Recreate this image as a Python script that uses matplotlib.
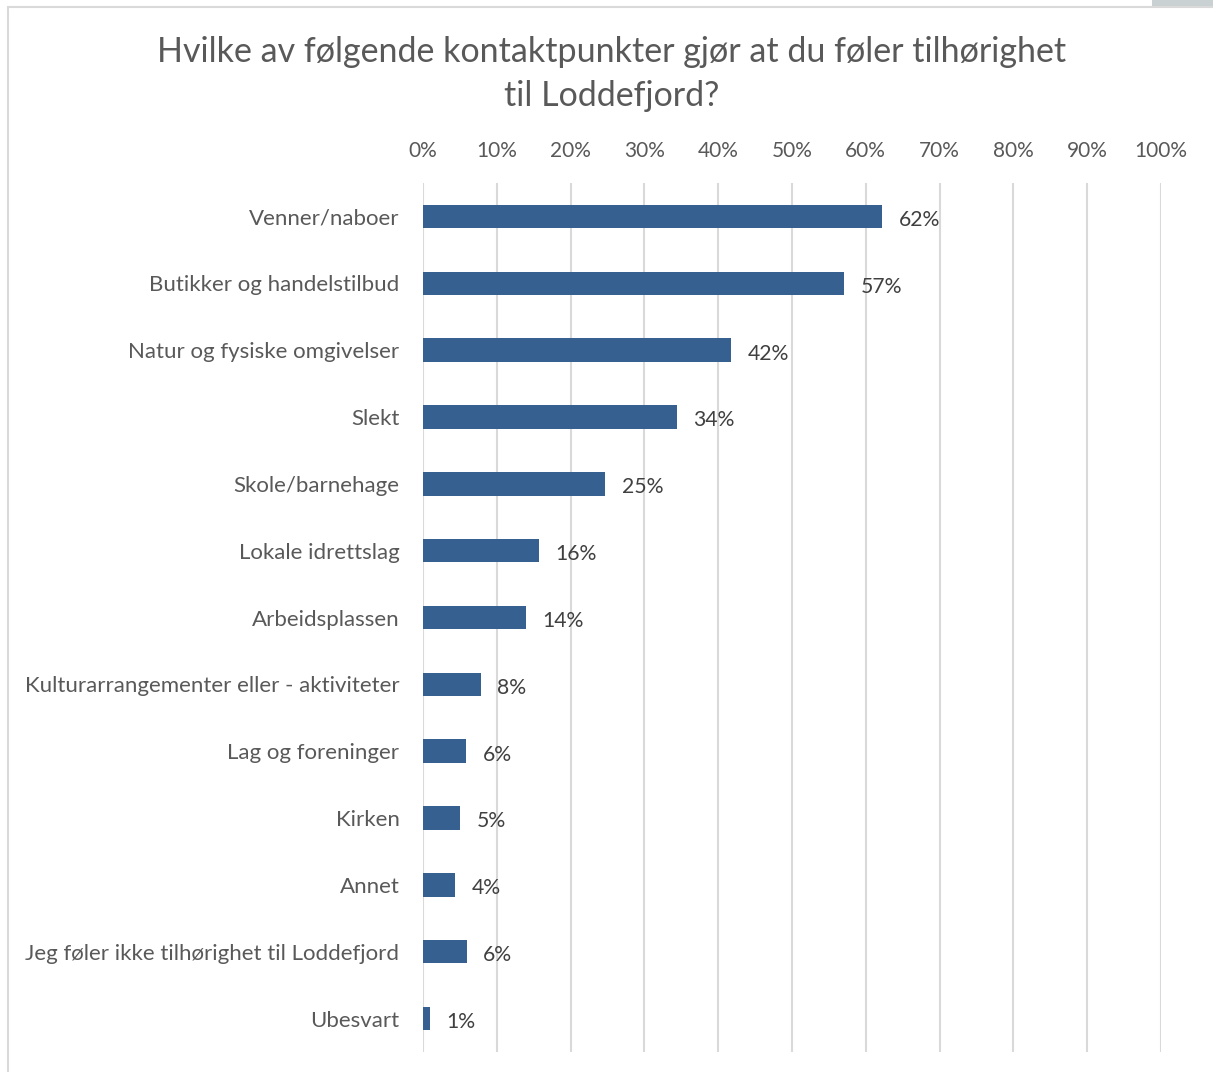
import matplotlib
matplotlib.use("Agg")
import matplotlib.pyplot as plt
from matplotlib.patches import Rectangle

categories = ["Venner/naboer", "Butikker og handelstilbud", "Natur og fysiske omgivelser",
              "Slekt", "Skole/barnehage", "Lokale idrettslag", "Arbeidsplassen",
              "Kulturarrangementer eller - aktiviteter", "Lag og foreninger", "Kirken",
              "Annet", "Jeg føler ikke tilhørighet til Loddefjord", "Ubesvart"]
values = [62.2, 57.0, 41.8, 34.4, 24.7, 15.7, 13.9, 7.8, 5.8, 5.0, 4.3, 5.9, 0.9]
labels = ["62%", "57%", "42%", "34%", "25%", "16%", "14%", "8%", "6%", "5%", "4%", "6%", "1%"]
ticks = [0, 10, 20, 30, 40, 50, 60, 70, 80, 90, 100]
tick_labels = [f"{t}%" for t in ticks]
title = "Hvilke av følgende kontaktpunkter gjør at du føler tilhørighet\ntil Loddefjord?"

plt.rcParams['font.family'] = ['Lato', 'DejaVu Sans']

W, H = 1213, 1072
fig = plt.figure(figsize=(W / 100, H / 100), dpi=100)
fig.patch.set_facecolor("white")

# chart border
fig.add_artist(Rectangle((7.5 / W, -0.01), 1.2, 1 - 6.5 / H + 0.01, transform=fig.transFigure,
                         fill=False, edgecolor="#d9d9d9", linewidth=1.5))
fig.add_artist(Rectangle((1152 / W, 1 - 6 / H), 61 / W, 6 / H, transform=fig.transFigure,
                         facecolor="#c9d1d3", edgecolor="none"))

ax = fig.add_axes([423 / W, 1 - 1052 / H, (1161 - 423) / W, (1052 - 183) / H])
y = list(range(len(categories)))
ax.barh(y, values, height=0.35, color="#36608f", zorder=3)
for yi, v, lab in zip(y, values, labels):
    ax.annotate(lab, (v, yi), xytext=(12, -1), textcoords="offset points",
                va="center_baseline", ha="left", fontsize=15.2, color="#404040")

ax.set_xlim(0, 100)
ax.set_ylim(len(categories) - 0.5, -0.5)
ax.set_xticks(ticks)
ax.set_xticklabels(tick_labels)
ax.set_yticks(y)
ax.set_yticklabels(categories)
ax.xaxis.tick_top()
ax.tick_params(axis="x", length=0, pad=16, labelsize=15, labelcolor="#595959")
ax.tick_params(axis="y", length=0, pad=17, labelsize=16, labelcolor="#595959")
ax.grid(axis="x", color="#d9d9d9", linewidth=1.5, zorder=0)
for s in ax.spines.values():
    s.set_visible(False)

fig.text(612 / W, 1 - 74 / H, title, ha="center", va="center", fontsize=24.5,
         color="#595959", linespacing=1.5)

fig.savefig("out.png", dpi=100)
